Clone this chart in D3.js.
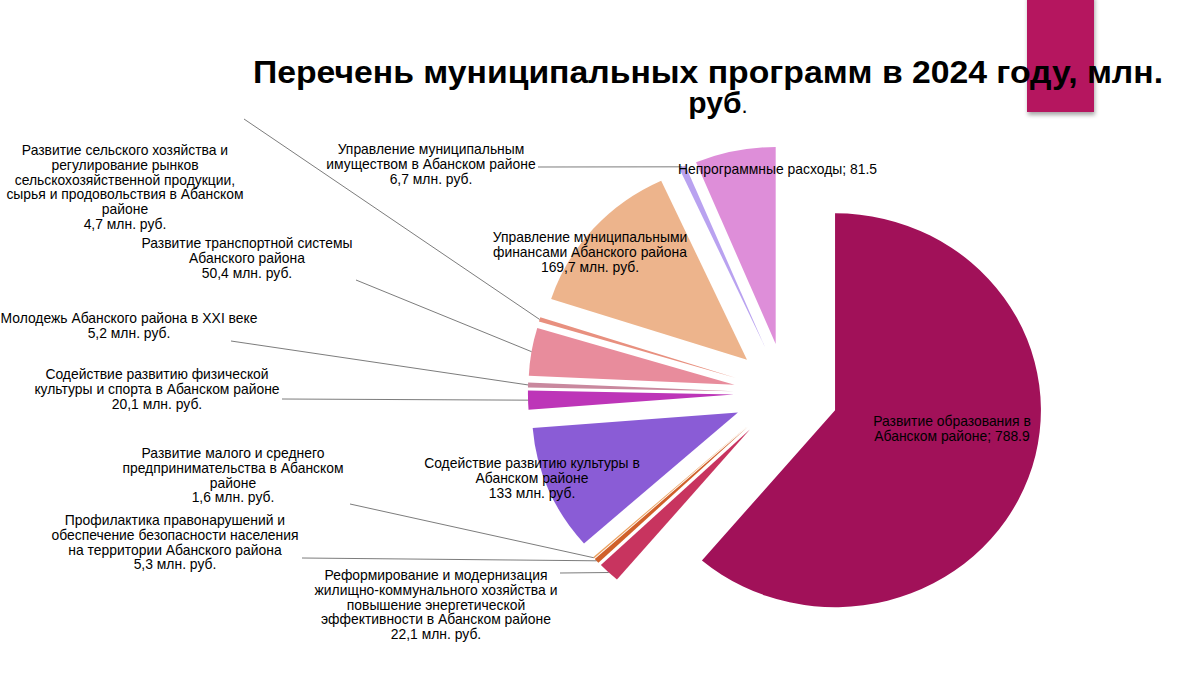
<!DOCTYPE html>
<html>
<head>
<meta charset="utf-8">
<script src="https://cdn.jsdelivr.net/npm/d3@7"></script>
<style>
  body { margin: 0; background: #fff; }
  svg { display: block; font-family: "Liberation Sans", Arial, sans-serif; }
</style>
</head>
<body>
<div id="chart"></div>
<script>
// Programs, clockwise from 12 o'clock
const programs = [
  ["Развитие образования в", "Абанском районе"],
  ["Реформирование и модернизация", "жилищно-коммунального хозяйства и", "повышение энергетической", "эффективности в Абанском районе"],
  ["Профилактика правонарушений и", "обеспечение безопасности населения", "на территории Абанского района"],
  ["Развитие малого и среднего", "предпринимательства в Абанском", "районе"],
  ["Содействие развитию культуры в", "Абанском районе"],
  ["Содействие развитию физической", "культуры и спорта в Абанском районе"],
  ["Молодежь Абанского района в XXI веке"],
  ["Развитие транспортной системы", "Абанского района"],
  ["Развитие сельского хозяйства и", "регулирование рынков", "сельскохозяйственной продукции,", "сырья и продовольствия в Абанском", "районе"],
  ["Управление муниципальными", "финансами Абанского района"],
  ["Управление муниципальным", "имуществом в Абанском районе"],
  ["Непрограммные расходы"]
];
const values = [788.9, 22.1, 5.3, 1.6, 133, 20.1, 5.2, 50.4, 4.7, 169.7, 6.7, 81.5];
// label style: "semi" -> "name; value" on last line, otherwise "value млн. руб." on its own line
const labelStyle = ["semi", "rub", "rub", "rub", "rub", "rub", "rub", "rub", "rub", "rub", "rub", "semi"];

const colors = ["#a11159", "#c8345f", "#d0602a", "#eba15f", "#8a5cd6", "#bd35b8",
                "#c9889e", "#e88c9c", "#e8907f", "#edb48c", "#b9a2f0", "#de8ed9"];

// label layout: centre x, first baseline y, anchor, leader start (label side) or null
const labelPos = [
  { x: 952, y: 426, anchor: "middle", lead: null },
  { x: 436, y: 580, anchor: "middle", lead: [560, 573] },
  { x: 175, y: 525, anchor: "middle", lead: [302, 558] },
  { x: 233, y: 458, anchor: "middle", lead: [350, 504] },
  { x: 532, y: 468, anchor: "middle", lead: null },
  { x: 157, y: 379, anchor: "middle", lead: [282, 399] },
  { x: 129, y: 323, anchor: "middle", lead: [231, 341] },
  { x: 247, y: 248, anchor: "middle", lead: [356, 280] },
  { x: 125, y: 155, anchor: "middle", lead: [244, 119] },
  { x: 590, y: 242, anchor: "middle", lead: null },
  { x: 431, y: 154, anchor: "middle", lead: [538, 167] },
  { x: 678, y: 174, anchor: "start", lead: null }
];

const W = 1200, H = 675;
const cx = 786, cy = 393, r = 197, sx = 1.045, explode = 50, lineH = 14.8;

const svg = d3.select("#chart").append("svg")
  .attr("width", W).attr("height", H).attr("viewBox", `0 0 ${W} ${H}`);

const defs = svg.append("defs");
defs.append("filter").attr("id", "shadow")
  .attr("x", "-20%").attr("y", "-20%").attr("width", "150%").attr("height", "150%")
  .append("feDropShadow")
  .attr("dx", 1).attr("dy", 3).attr("stdDeviation", 2)
  .attr("flood-color", "#000").attr("flood-opacity", 0.35);

// decorative corner block
svg.append("rect")
  .attr("x", 1027).attr("y", -5).attr("width", 67).attr("height", 117)
  .attr("fill", "#b5135f").attr("filter", "url(#shadow)");

// title
const title = svg.append("g").attr("font-weight", "bold").attr("fill", "#000");
title.append("text")
  .attr("x", 708).attr("y", 83).attr("text-anchor", "middle")
  .attr("font-size", "31px")
  .attr("textLength", 910).attr("lengthAdjust", "spacingAndGlyphs")
  .text("Перечень муниципальных программ в 2024 году, млн.");
const t2 = title.append("text")
  .attr("x", 718).attr("y", 113).attr("text-anchor", "middle")
  .attr("font-size", "30px");
t2.append("tspan").text("руб");
t2.append("tspan").attr("font-weight", "normal").attr("font-size", "22px").text(".");

// pie
const pie = d3.pie().sort(null).startAngle(0).endAngle(2 * Math.PI)(values);
const arc = d3.arc().innerRadius(0).outerRadius(r);

const pieG = svg.append("g").attr("transform", `translate(${cx},${cy}) scale(${sx},1)`);
pieG.selectAll("path").data(pie).join("path")
  .attr("d", arc)
  .attr("fill", (d, i) => colors[i])
  .attr("transform", d => {
    const m = (d.startAngle + d.endAngle) / 2;
    return `translate(${Math.sin(m) * explode},${-Math.cos(m) * explode})`;
  });

// outer arc midpoint in screen coords
function outerPoint(d) {
  const m = (d.startAngle + d.endAngle) / 2;
  return [cx + sx * Math.sin(m) * (explode + r), cy - Math.cos(m) * (explode + r)];
}

// leader lines
const leadG = svg.append("g");
pie.forEach((d, i) => {
  const p = labelPos[i];
  if (!p.lead) return;
  const [ex, ey] = outerPoint(d);
  leadG.append("line")
    .attr("x1", p.lead[0]).attr("y1", p.lead[1])
    .attr("x2", ex).attr("y2", ey)
    .attr("stroke", "#5a5a5a").attr("stroke-width", 0.8);
});

// labels
const labG = svg.append("g").attr("font-size", "13.9px").attr("fill", "#000");
programs.forEach((lines, i) => {
  const p = labelPos[i];
  let all;
  if (labelStyle[i] === "semi") {
    all = lines.slice();
    all[all.length - 1] = all[all.length - 1] + "; " + values[i];
  } else {
    all = lines.concat([String(values[i]).replace(".", ",") + " млн. руб."]);
  }
  const t = labG.append("text")
    .attr("x", p.x).attr("y", p.y).attr("text-anchor", p.anchor);
  all.forEach((s, k) => {
    t.append("tspan").attr("x", p.x).attr("y", p.y + k * lineH).text(s);
  });
});
</script>
</body>
</html>
